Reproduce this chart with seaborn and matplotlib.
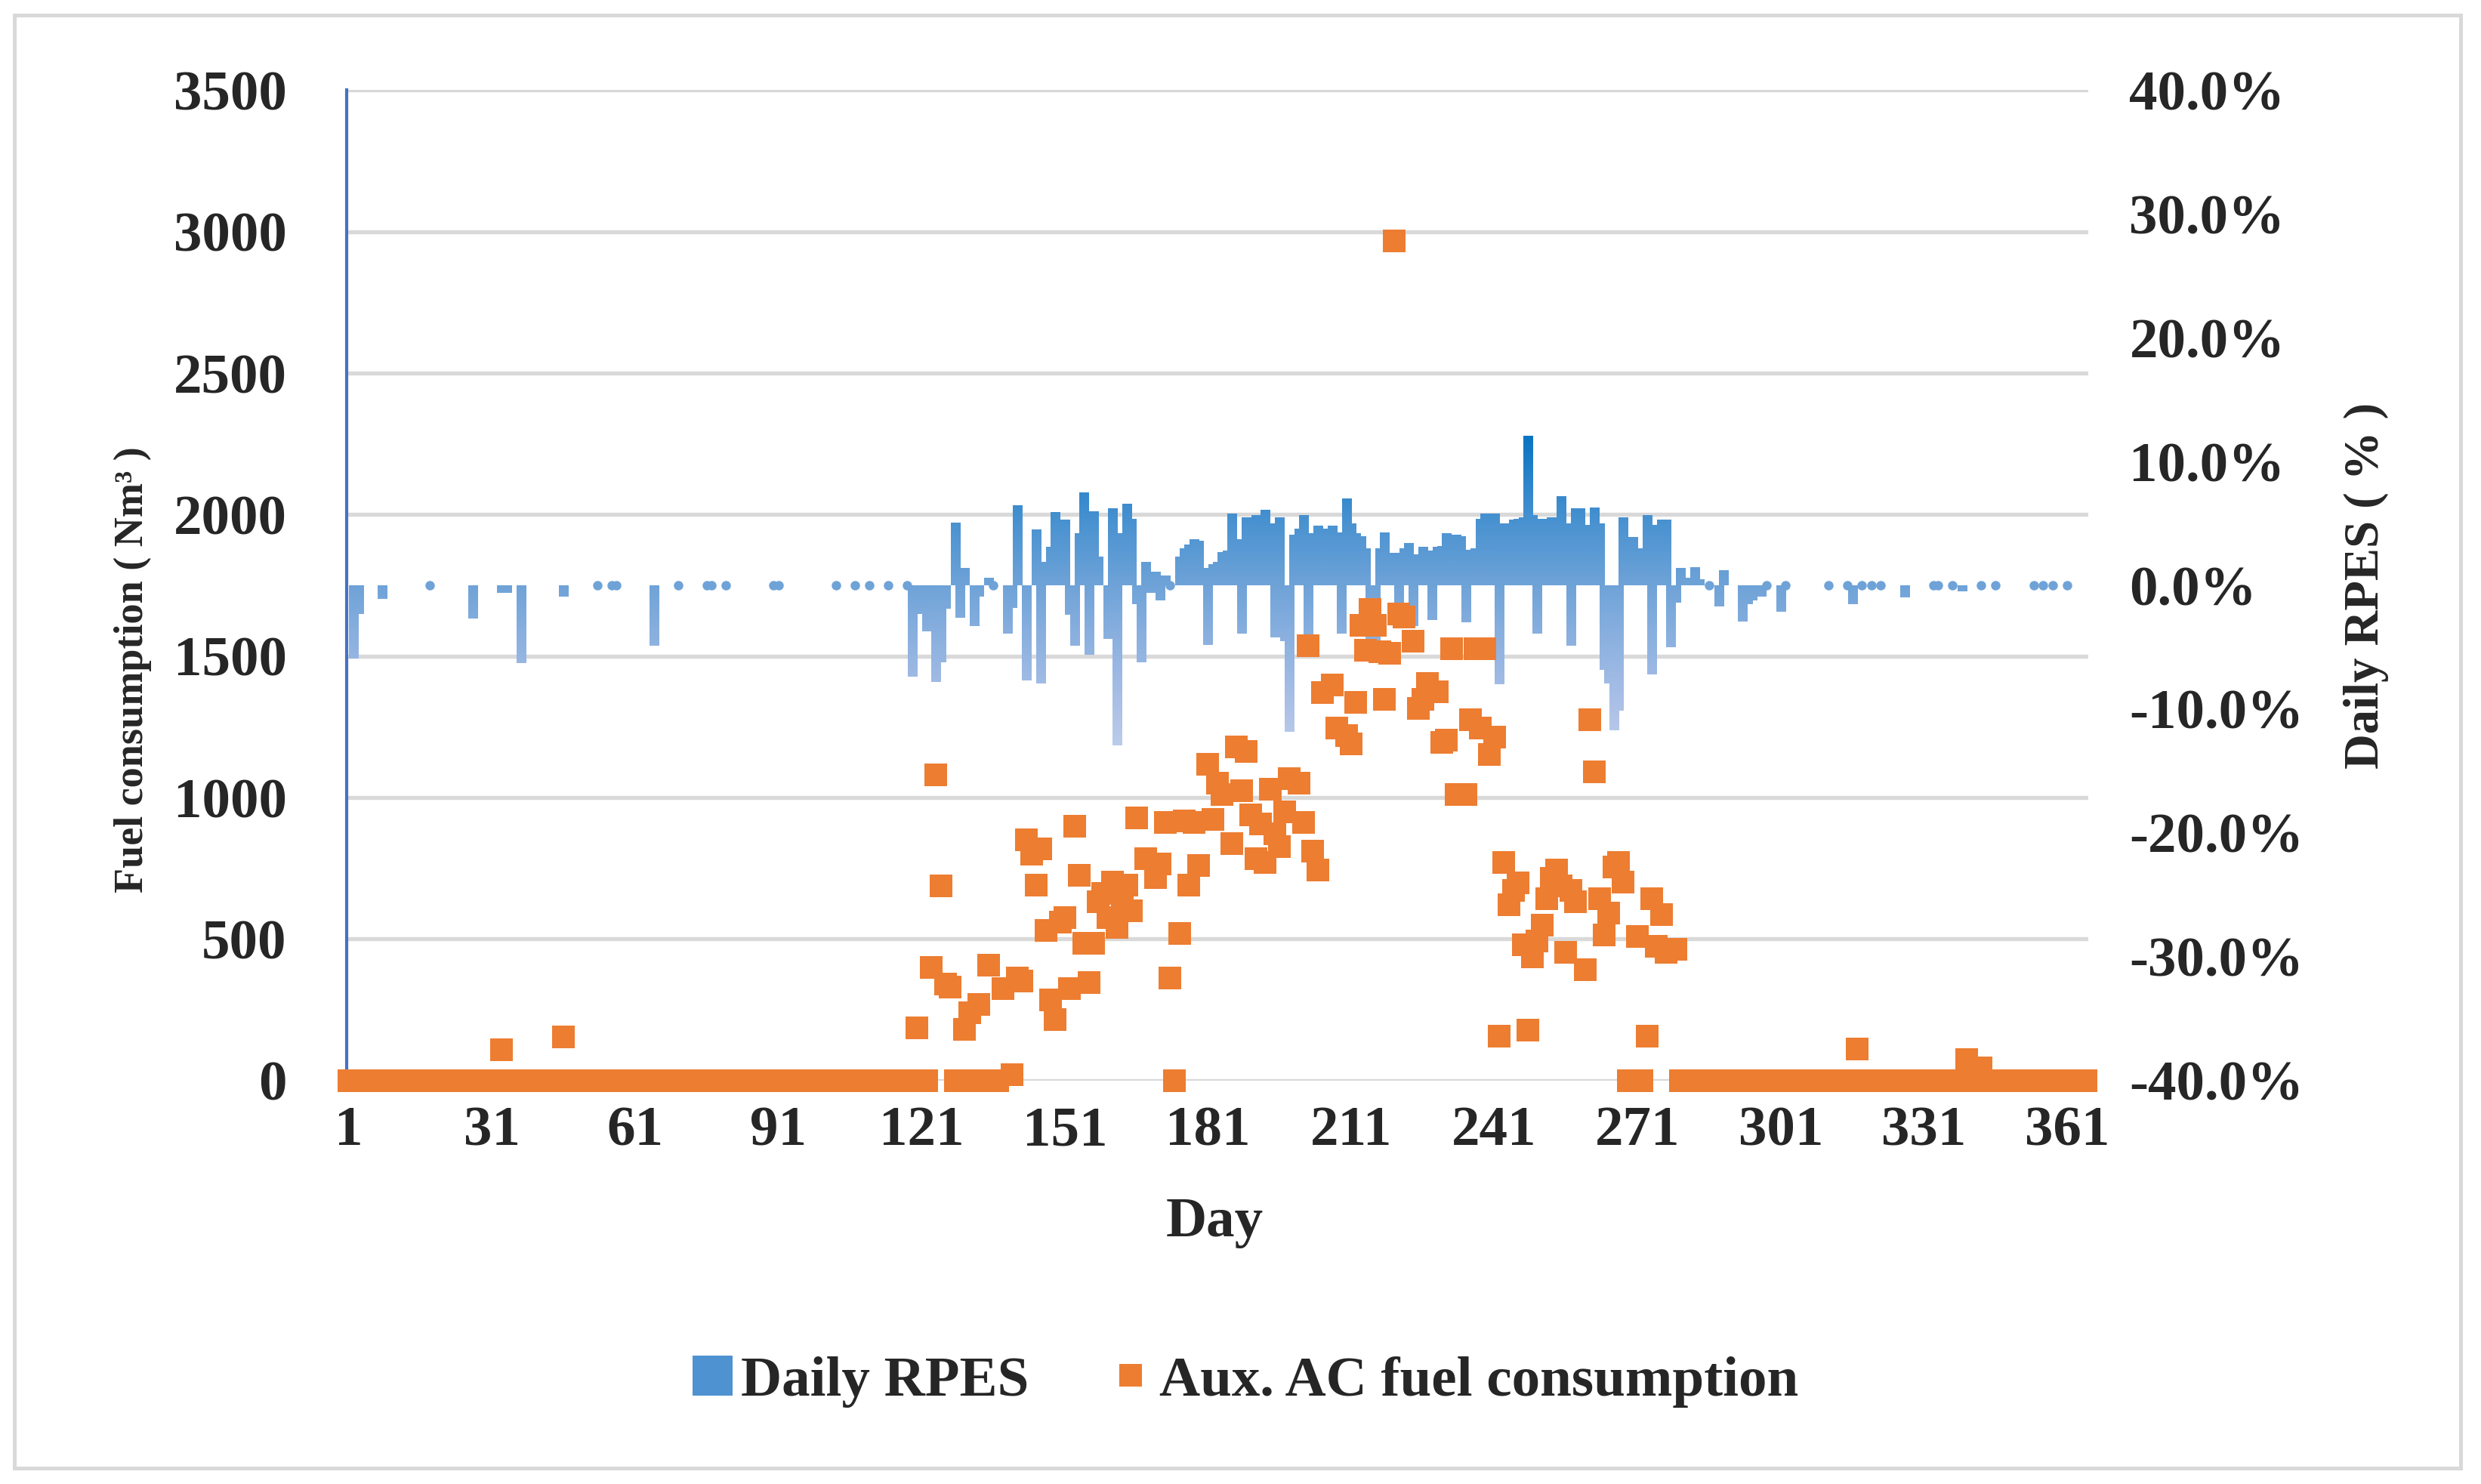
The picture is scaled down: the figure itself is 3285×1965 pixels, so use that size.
import numpy as np
import pandas as pd
import matplotlib
matplotlib.use("Agg")
import matplotlib.pyplot as plt
import seaborn as sns
from matplotlib.colors import LinearSegmentedColormap, Normalize
from matplotlib.patches import Rectangle, Patch
from matplotlib.lines import Line2D
from matplotlib.ticker import FuncFormatter

# ---- data ----
day_ticks = [1, 31, 61, 91, 121, 151, 181, 211, 241, 271, 301, 331, 361]
fuel_ticks = [0, 500, 1000, 1500, 2000, 2500, 3000, 3500]
rpes_ticks = [-40, -30, -20, -10, 0, 10, 20, 30, 40]

# Daily RPES (%) per day, blank days left out
rpes_days = [2, 3, 8, 18, 27, 33, 34, 37, 46, 53, 56, 57, 65, 70, 76, 77, 80, 90, 91,
             103, 107, 110, 114, 118, 119, 120, 122, 124, 125, 126, 128, 129, 130, 132,
             133, 135, 136, 139, 140, 141, 143, 145, 146, 147, 148, 149, 150, 151, 152,
             153, 154, 155, 156, 157, 158, 160, 161, 162, 163, 164, 165, 166, 167, 168,
             169, 170, 171, 172, 173, 175, 176, 177, 178, 179, 180, 181, 182, 183, 184,
             185, 186, 187, 188, 189, 190, 191, 192, 193, 194, 195, 196, 197, 198, 199,
             200, 201, 202, 203, 204, 205, 206, 207, 208, 209, 210, 211, 212, 213, 214,
             215, 216, 217, 218, 219, 220, 221, 222, 223, 224, 225, 226, 227, 228, 229,
             230, 231, 232, 233, 234, 235, 236, 237, 238, 239, 240, 241, 242, 243, 244,
             245, 246, 247, 248, 249, 250, 251, 252, 253, 254, 255, 256, 257, 258, 259,
             260, 261, 262, 263, 264, 265, 266, 267, 268, 269, 270, 271, 272, 273, 274,
             275, 276, 277, 278, 279, 280, 281, 282, 283, 284, 286, 288, 289, 293, 294,
             295, 296, 297, 298, 301, 302, 311, 315, 316, 318, 320, 322, 327, 333, 334,
             337, 339, 343, 346, 354, 356, 358, 361]
rpes_vals = [-5.9, -2.3, -1.1, 0, -2.7, -0.6, -0.6, -6.3, -0.9, 0, 0, 0, -4.9, 0, 0, 0, 0, 0, 0,
             0, 0, 0, 0, 0, -7.4, -2.3, -3.7, -7.8, -6.2, -1.9, 5.1, -2.6, 1.4, -3.3,
             -0.9, 0.6, 0, -3.9, -1.8, 6.5, -7.7, 4.5, -7.9, 1.9, 3.1, 5.9, 2.5, 5.3, -2.4,
             -4.9, 4.2, 7.5, -5.6, 6.0, 2.3, -4.3, 6.2, -12.9, 4.2, 6.6, 5.4, -1.5, -6.2, 1.9,
             -0.6, 1.1, -1.2, 0.8, 0, 2.3, 3.0, 3.3, 3.7, 3.6, 1.4, -4.8, 1.7, 1.9, 2.7,
             2.8, 5.8, 3.7, -3.9, 5.5, 5.4, 5.7, 5.6, 6.1, 5.0, -4.2, 5.5, -4.5, -11.8, 4.1,
             4.6, 5.7, -5.7, 4.2, 4.8, 4.6, 4.4, 4.8, 4.3, -3.9, 7.0, 5.0, 4.2, 4.0, 3.0,
             -4.7, -4.7, 3.0, 4.3, 2.6, 2.6, -3.3, 3.0, 3.4, -3.3, 2.5, 3.1, 2.8, -2.8, 3.1,
             3.2, 4.2, 4.1, 4.1, 4.0, -3.0, 2.9, 3.0, 5.4, 5.8, 5.8, 5.8, -8.0, 5.0, 5.0,
             5.3, 5.4, 5.5, 12.1, 5.7, -3.9, 5.4, 5.3, 5.5, 5.4, 7.2, 5.0, -4.9, 6.2, 6.2,
             4.9, 4.9, 6.3, 5.0, -6.8, -7.9, -11.7, -10.1, 5.5, 3.5, 3.9, 1.3, 3.0, 5.7, -7.2,
             4.9, 5.3, 5.3, -5.0, -1.4, 1.4, 0.6, 0.5, 1.5, 0.5, 0, -1.7, 1.2, -2.9, -1.5,
             -1.2, -0.9, -0.9, 0, -2.1, 0, 0, 0, -1.5, 0, 0, 0, -1.0, 0, 0,
             0, -0.5, 0, 0, 0, 0, 0, 0]

# Aux. AC fuel consumption (Nm3): non-zero days
fuel_days = [33, 46, 120, 123, 124, 125, 126, 127, 130, 131, 133, 135, 138, 140, 141, 142,
             143, 144, 145, 146, 147, 148, 149, 150, 151, 152, 153, 154, 155, 156, 157,
             158, 159, 160, 161, 162, 163, 164, 165, 166, 168, 170, 171, 172, 173, 175,
             176, 177, 178, 179, 181, 182, 183, 184, 186, 187, 188, 189, 190, 191, 192,
             193, 194, 195, 196, 197, 198, 200, 201, 202, 203, 204, 205, 207, 208, 210,
             211, 212, 213, 214, 215, 216, 217, 218, 219, 220, 221, 222, 224, 225, 226,
             227, 229, 230, 231, 232, 233, 235, 236, 237, 238, 239, 240, 241, 242, 243,
             244, 245, 246, 247, 248, 249, 250, 251, 252, 253, 254, 255, 256, 257, 258,
             260, 261, 262, 263, 264, 265, 266, 267, 268, 271, 273, 274, 275, 276, 277,
             279, 317, 340, 343]
fuel_vals = [110, 155, 185, 400, 1079, 688, 341, 330, 180, 240, 268, 408, 325, 20, 363, 352,
             850, 800, 690, 820, 530, 285, 215, 560, 575, 325, 900, 725, 486, 347, 486,
             632, 660, 575, 700, 540, 620, 690, 600, 928, 783, 716, 766, 911, 363, 520,
             917, 690, 911, 760, 1118, 922, 1050, 1012, 838, 1180, 1023, 1163, 940, 783, 906,
             771, 1029, 872, 827, 950, 1068, 1050, 911, 1537, 810, 743, 1370, 1398, 1247, 1219,
             1190, 1336, 1610, 1520, 1666, 1610, 1515, 1347, 1509, 2968, 1649, 1638, 1554, 1314, 1347,
             1403, 1375, 1196, 1202, 1526, 1012, 1012, 1275, 1526, 1247, 1526, 1152, 1213, 156, 771,
             620, 671, 699, 481, 179, 436, 492, 548, 643, 715, 743, 688, 453, 671, 632,
             391, 1275, 1090, 643, 514, 593, 755, 771, 700, 508, 156, 643, 475, 587, 453,
             464, 112, 73, 45]
# days where the orange marker sits on zero
fuel_zero_days = ([d for d in range(1, 120) if d not in (33, 46)] + [121, 122, 128, 129, 132, 134,
                  136, 137, 174, 269, 272] + [d for d in range(280, 366) if d not in (317, 340, 343)])

blue_colors = [(0.0, "#CAD8EF"), (0.21, "#ADC1E7"), (0.41, "#8AB0DF"), (0.55, "#6FA3D8"),
               (0.72, "#4B93D1"), (0.83, "#2F86CB"), (1.0, "#0070C0")]

fuel_df = pd.DataFrame({
    "day": fuel_days + fuel_zero_days,
    "fuel": fuel_vals + [0] * len(fuel_zero_days),
}).sort_values("day")

sns.set_theme(style="white")
plt.rcParams["font.family"] = ["Liberation Serif", "DejaVu Serif"]
plt.rcParams["font.weight"] = "bold"

fig = plt.figure(figsize=(10.95, 6.55), dpi=300)
fig.patches.append(Rectangle((0.0057, 0.0107), 0.986, 0.979, transform=fig.transFigure,
                             fill=False, edgecolor="#D9D9D9", linewidth=1.2))

ax_f = fig.add_axes([0.1397, 0.2719, 0.7021, 0.6673])
ax_r = ax_f.twinx()
ax_m = ax_f.twinx()

# gridlines of the fuel axis sit underneath the bars
ax_f.set_xlim(0.5, 365.5)
ax_f.set_ylim(0, 3500)
ax_f.set_yticks(fuel_ticks)
ax_f.set_xticks(day_ticks)
ax_f.grid(axis="y", color="#D9D9D9", linewidth=1.3)
ax_f.grid(axis="x", visible=False)
ax_f.tick_params(axis="y", length=0, pad=19, labelsize=18)
ax_f.tick_params(axis="x", length=0, pad=8, labelsize=18)
for s in ["top", "right", "bottom"]:
    ax_f.spines[s].set_visible(False)
ax_f.spines["left"].set_color("#4472C4")
ax_f.spines["left"].set_linewidth(1.0)
ax_f.set_xlabel("Day", fontsize=18, fontweight="bold")
ax_f.xaxis.set_label_coords(0.4985, -0.118)
ax_f.set_ylabel("Fuel consumption ( Nm³ )", fontsize=13, fontweight="bold")
ax_f.yaxis.set_label_coords(-0.112, 0.415)

# Daily RPES bars with vertical gradient
cmap = LinearSegmentedColormap.from_list("rpes", blue_colors)
norm = Normalize(-16, 13)
grad = np.linspace(13, -16, 400).reshape(-1, 1)
bars = ax_r.bar(rpes_days, rpes_vals, width=1.9, color="none", linewidth=0)
for b in bars:
    if b.get_height() == 0:
        continue
    x0 = b.get_x()
    im = ax_r.imshow(grad, cmap=cmap, norm=norm, extent=(x0, x0 + b.get_width(), -16, 13),
                     aspect="auto", interpolation="bilinear", zorder=2)
    im.set_clip_path(b)
zero_days = [d for d, v in zip(rpes_days, rpes_vals) if v == 0]
ax_r.scatter(zero_days, [0] * len(zero_days), s=9, color="#6FA3D8", linewidth=0, zorder=3)

ax_r.set_xlim(0.5, 365.5)
ax_r.set_ylim(-40, 40)
ax_r.set_yticks(rpes_ticks)
ax_r.yaxis.set_major_formatter(FuncFormatter(lambda v, p: f"{v:.1f}%"))
ax_r.tick_params(axis="y", length=0, pad=13, labelsize=18)
ax_r.grid(False)
for s in ax_r.spines.values():
    s.set_visible(False)
ax_r.set_ylabel("Daily RPES ( % )", fontsize=15.5, fontweight="bold")
ax_r.yaxis.set_label_coords(1.1465, 0.5)

# orange markers on top of the bars
sns.scatterplot(data=fuel_df, x="day", y="fuel", marker="s", s=52, color="#ED7D31",
                linewidth=0, ax=ax_m, clip_on=False, legend=False, zorder=4)
ax_m.set_xlim(0.5, 365.5)
ax_m.set_ylim(0, 3500)
ax_m.set_axis_off()

handles = [Patch(facecolor="#4E92D2", edgecolor="none"),
           Line2D([], [], marker="s", linestyle="none", markersize=7.2,
                  markerfacecolor="#ED7D31", markeredgewidth=0)]
fig.legend(handles, ["Daily RPES", "Aux. AC fuel consumption"], loc="center",
           bbox_to_anchor=(0.502, 0.069), ncol=2, frameon=False,
           prop={"size": 18, "weight": "bold"}, handlelength=0.7, handleheight=0.7,
           handletextpad=0.15, columnspacing=1.45)

fig.savefig("out.png", dpi=300)
